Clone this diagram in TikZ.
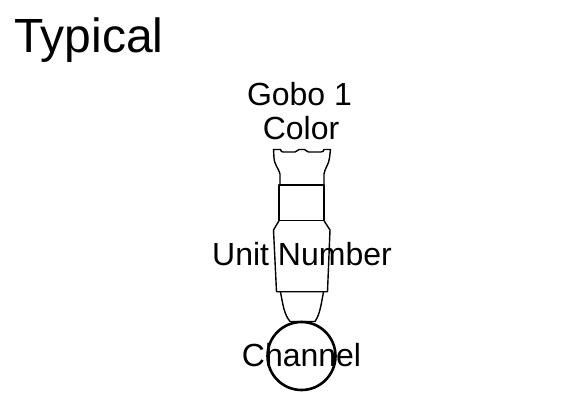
\documentclass[tikz,border=0pt]{standalone}
\usepackage{fontspec}
\setmainfont{Liberation Sans}
\tikzset{
  outl/.style={draw=black,line width=1.4pt,line join=round},
  ring/.style={circle,draw=black,line width=2.6pt,minimum size=68pt,inner sep=0pt},
  lab/.style={inner sep=0pt,text=black,font=\fontsize{32}{35}\selectfont,anchor=base},
  ttl/.style={inner sep=0pt,text=black,font=\fontsize{48}{54}\selectfont,anchor=base west}
}
\begin{document}
\begin{tikzpicture}[x=1pt,y=-1pt]
\useasboundingbox (0,0) rectangle (587,416);
% head
\draw[outl] (280,185) -- (280,174) .. controls (279,169) and (274,164) .. (274,158) -- (273.5,149.5) -- (280.5,149.5) .. controls (281,151) and (281.5,152) .. (283,152) -- (295,152) .. controls (297,152) and (297.5,149.5) .. (299,149.5) -- (304.5,149.5) .. controls (306,149.5) and (306.5,152) .. (308.5,152) -- (321,152) .. controls (323,152) and (323.5,151) .. (324,149.5) -- (330.5,149.5) -- (329.5,158) .. controls (329,164) and (324.5,169) .. (324,174) -- (324,185);
\draw[outl] (279,185) rectangle (324,220.7);
\draw[outl] (279,220.7) -- (273.5,230) -- (276.5,291.7) -- (327.5,291.7) -- (330,230) -- (324,220.7);
\draw[outl] (280.5,292) .. controls (283,305) and (284,314) .. (290,321.5) -- (315,321.5) .. controls (320,314) and (321,305) .. (323.5,292);
\node[ring] (c) at (301.5,356) {};
\node[lab] (g) at (299.5,105) {Gobo 1};
\node[lab] (k) at (301,139.5) {Color};
\node[lab] (u) at (302,265) {Unit Number};
\node[lab] (n) at (301.5,366.7) {Channel};
\node[ttl] (t) at (14,52) {Typical};
\end{tikzpicture}
\end{document}
